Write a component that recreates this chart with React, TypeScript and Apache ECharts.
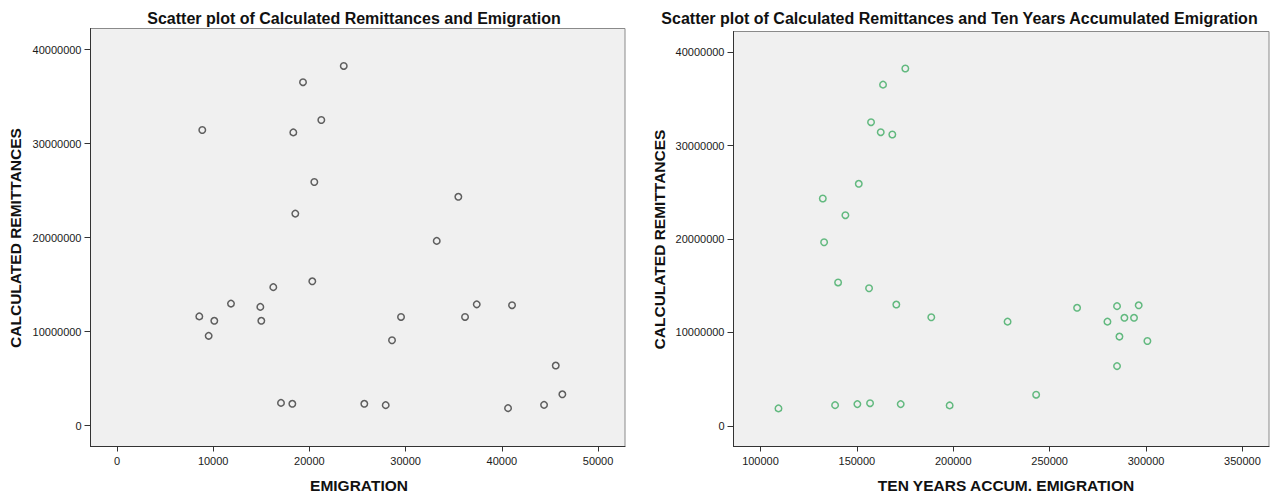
import React, { useEffect, useRef } from "react";
import * as echarts from "echarts";

// Calculated remittances (shared by both panels)
const remittances = [
  38260000, 36530000, 32510000, 31440000, 31190000, 25910000, 24340000, 22550000,
  19650000, 15350000, 14730000, 12980000, 12900000, 12810000, 12630000, 11620000,
  11560000, 11560000, 11150000, 11150000, 9550000, 9080000, 6390000, 3330000,
  2420000, 2320000, 2320000, 2210000, 2180000, 1860000,
];
// Emigration (left panel x)
const emigration = [
  23570, 19335, 21237, 8867, 18327, 20510, 35478, 18534,
  33233, 20301, 16247, 11850, 37391, 41060, 14900, 8557,
  29522, 36175, 10116, 15002, 9530, 28586, 45603, 46289,
  17048, 18226, 25707, 44387, 27931, 40644,
];
// Ten years accumulated emigration (right panel x)
const accumEmigration = [
  175130, 163570, 157350, 162380, 168390, 150980, 132330, 144040,
  133000, 140260, 156320, 170460, 296200, 284960, 264240, 188600,
  288790, 293770, 228180, 279990, 286210, 300720, 284960, 243000,
  156840, 150260, 172740, 138700, 198130, 109330,
];

const yTicks = [0, 10000000, 20000000, 30000000, 40000000];
const xTicksLeft = [0, 10000, 20000, 30000, 40000, 50000];
const xTicksRight = [100000, 150000, 200000, 250000, 300000, 350000];

const titleLeft = "Scatter plot of Calculated Remittances and Emigration";
const titleRight = "Scatter plot of Calculated Remittances and Ten Years Accumulated Emigration";
const xNameLeft = "EMIGRATION";
const xNameRight = "TEN YEARS ACCUM. EMIGRATION";
const yName = "CALCULATED REMITTANCES";

const FONT = "'Liberation Sans', Arial, sans-serif";

export default function App() {
  const ref = useRef<HTMLDivElement>(null);
  useEffect(() => {
    document.body.style.margin = "0";
    const chart = echarts.init(ref.current!, null, { renderer: "svg" });

    const plain = (v: number) => String(Math.round(v));

    const xAxisBase = (gridIndex: number, min: number, max: number, ticks: number[]) => ({
      type: "value",
      gridIndex,
      min,
      max,
      splitLine: { show: false },
      axisLine: { show: true, onZero: false, lineStyle: { color: "#333", width: 1 } },
      axisTick: { show: true, length: 5, inside: false, customValues: ticks, lineStyle: { color: "#333" } },
      axisLabel: {
        customValues: ticks,
        formatter: plain,
        margin: 9,
        color: "#1a1a1a",
        fontSize: 11,
        fontFamily: FONT,
      },
    });
    const yAxisBase = (gridIndex: number, min: number, max: number) => ({
      type: "value",
      gridIndex,
      min,
      max,
      splitLine: { show: false },
      axisLine: { show: true, onZero: false, lineStyle: { color: "#333", width: 1 } },
      axisTick: { show: true, length: 6, inside: false, customValues: yTicks, lineStyle: { color: "#333" } },
      axisLabel: {
        customValues: yTicks,
        formatter: plain,
        margin: 9,
        color: "#1a1a1a",
        fontSize: 11,
        fontFamily: FONT,
      },
    });

    const boldText = (x: number, y: number, text: string, size: number, rotation = 0) => ({
      type: "text",
      x,
      y,
      rotation,
      style: {
        text,
        fill: "#111",
        font: `bold ${size}px ${FONT}`,
        textAlign: "center",
        textVerticalAlign: "middle",
      },
    });

    chart.setOption({
      animation: false,
      backgroundColor: "#ffffff",
      grid: [
        {
          left: 90.5, top: 28.5, width: 534.5, height: 418,
          show: true, backgroundColor: "#f0f0f0", borderColor: "#8a8a8a", borderWidth: 1,
        },
        {
          left: 733.5, top: 31.5, width: 535.5, height: 415,
          show: true, backgroundColor: "#f0f0f0", borderColor: "#8a8a8a", borderWidth: 1,
        },
      ],
      xAxis: [
        xAxisBase(0, -2750, 52800, xTicksLeft),
        xAxisBase(1, 86000, 363800, xTicksRight),
      ],
      yAxis: [
        yAxisBase(0, -2220000, 42240000),
        yAxisBase(1, -2220000, 42220000),
      ],
      series: [
        {
          type: "scatter",
          xAxisIndex: 0,
          yAxisIndex: 0,
          symbol: "circle",
          symbolSize: 6.5,
          itemStyle: { color: "rgba(0,0,0,0)", borderColor: "#3a3a3a", borderWidth: 1.5 },
          data: emigration.map((x, i) => [x, remittances[i]]),
        },
        {
          type: "scatter",
          xAxisIndex: 1,
          yAxisIndex: 1,
          symbol: "circle",
          symbolSize: 6.5,
          itemStyle: { color: "rgba(0,0,0,0)", borderColor: "#3fab63", borderWidth: 1.5 },
          data: accumEmigration.map((x, i) => [x, remittances[i]]),
        },
      ],
      graphic: [
        boldText(354, 18, titleLeft, 16),
        boldText(959.5, 18, titleRight, 16),
        boldText(359, 485, xNameLeft, 15.5),
        boldText(1006, 485, xNameRight, 15.5),
        boldText(15, 238, yName, 15.5, Math.PI / 2),
        boldText(659, 239.5, yName, 15.5, Math.PI / 2),
      ],
    });
    return () => chart.dispose();
  }, []);
  return <div ref={ref} style={{ width: 1272, height: 495 }} />;
}
